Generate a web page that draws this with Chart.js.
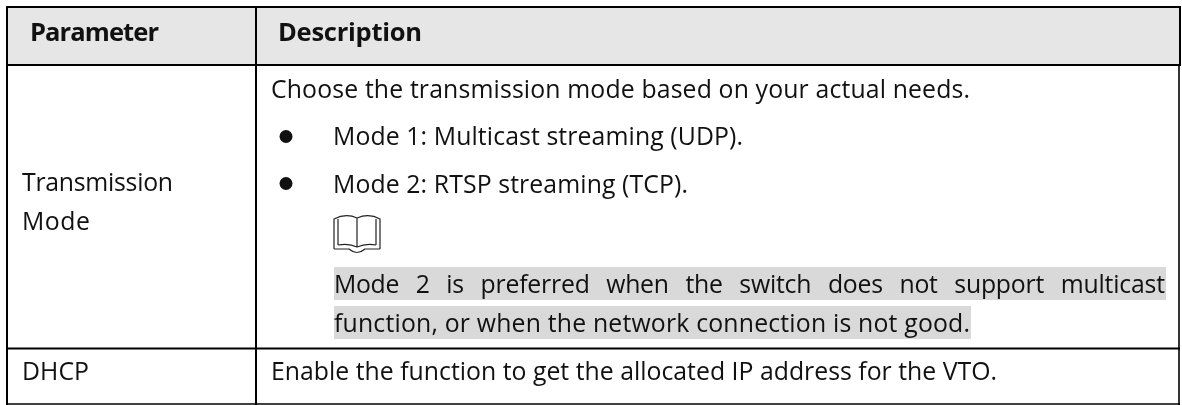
<!DOCTYPE html>
<html>
<head>
<meta charset="utf-8">
<title>Transmission mode parameters</title>
<script src="https://cdn.jsdelivr.net/npm/chart.js@4"></script>
<style>
  html, body { margin: 0; padding: 0; background: #ffffff; }
  #wrap { width: 1182px; height: 405px; }
</style>
</head>
<body>
<div id="wrap"><canvas id="tableChart" width="1182" height="405"></canvas></div>
<script>
// Table content
const headers = ['Parameter', 'Description'];
const parameterNames = ['Transmission', 'Mode', 'DHCP'];
const introLine = 'Choose the transmission mode based on your actual needs.';
const modeItems = ['Mode 1: Multicast streaming (UDP).', 'Mode 2: RTSP streaming (TCP).'];
const noteLines = [
  'Mode 2 is preferred when the switch does not support multicast',
  'function, or when the network connection is not good.'
];
const dhcpLine = 'Enable the function to get the allocated IP address for the VTO.';

const BODY_FONT = '24.8px "Open Sans"';
const HEAD_FONT = 'bold 25.5px "Open Sans"';

// Table rules, in the scale units of the chart (one unit = one pixel)
const tableRules = [
  { x1: 6, y1: 7, x2: 1181, y2: 7, w: 2 },
  { x1: 6, y1: 65, x2: 1181, y2: 65, w: 2 },
  { x1: 6, y1: 348.5, x2: 1180, y2: 348.5, w: 2 },
  { x1: 6, y1: 404, x2: 1180, y2: 404, w: 1.6 },
  { x1: 7, y1: 6, x2: 7, y2: 405, w: 2 },
  { x1: 256, y1: 6, x2: 256, y2: 405, w: 2 },
  { x1: 1180, y1: 6, x2: 1180, y2: 66, w: 2 },
  { x1: 1179, y1: 66, x2: 1179, y2: 405, w: 1.6 }
];

const tablePlugin = {
  id: 'tablePlugin',
  beforeDatasetsDraw(chart) {
    const { ctx, scales: { x, y } } = chart;
    const px = v => x.getPixelForValue(v);
    const py = v => y.getPixelForValue(v);

    const fill = (x1, y1, x2, y2, color) => {
      ctx.fillStyle = color;
      ctx.fillRect(px(x1), py(y1), px(x2) - px(x1), py(y2) - py(y1));
    };
    // Draws a line of text, spaced so that it ends at endX
    const text = (str, tx, ty, endX, font) => {
      ctx.font = font || BODY_FONT;
      ctx.letterSpacing = '0px';
      const spacing = (endX - tx - ctx.measureText(str).width) / (str.length - 1);
      ctx.letterSpacing = spacing.toFixed(3) + 'px';
      ctx.fillStyle = '#111111';
      ctx.fillText(str, px(tx), py(ty));
      ctx.letterSpacing = '0px';
    };

    ctx.save();
    ctx.textBaseline = 'alphabetic';
    ctx.textAlign = 'left';

    // Header and note backgrounds
    fill(7, 7, 1180, 65, '#e6e6e6');
    fill(334, 267, 1166, 300, '#d9d9d9');
    fill(334, 306, 971, 339, '#d9d9d9');

    // Header row
    text(headers[0], 30, 41, 159, HEAD_FONT);
    text(headers[1], 278, 41, 422, HEAD_FONT);

    // Left column
    text(parameterNames[0], 22, 191, 173);
    text(parameterNames[1], 22, 230, 90);
    text(parameterNames[2], 22, 380, 89);

    // Right column
    text(introLine, 271, 98, 970);
    text(modeItems[0], 333, 145, 743);
    text(modeItems[1], 333, 193, 688);
    text(dhcpLine, 271, 380, 997);

    // Bullets
    ctx.fillStyle = '#111111';
    [136.5, 183.5].forEach(by => {
      ctx.beginPath();
      ctx.arc(px(286), py(by), 6.5, 0, Math.PI * 2);
      ctx.fill();
    });

    // Justified first note line: stretch the word gaps to the full band
    ctx.font = BODY_FONT;
    const words = noteLines[0].split(' ');
    const wordsWidth = words.reduce((sum, w) => sum + ctx.measureText(w).width * 0.985, 0);
    const gap = (1165 - 334 - wordsWidth) / (words.length - 1);
    let cursor = 334;
    words.forEach(w => {
      const wordWidth = ctx.measureText(w).width * 0.985;
      text(w, cursor, 293, cursor + wordWidth);
      ctx.font = BODY_FONT;
      cursor += wordWidth + gap;
    });
    text(noteLines[1], 334, 332, 970);

    // Note icon (open book)
    ctx.strokeStyle = '#222222';
    ctx.lineWidth = 1.2;
    ctx.beginPath();
    ctx.moveTo(px(334), py(249)); ctx.lineTo(px(334), py(219));
    ctx.quadraticCurveTo(px(346), py(213), px(357), py(218));
    ctx.quadraticCurveTo(px(369), py(213), px(380), py(219));
    ctx.lineTo(px(380), py(249));
    ctx.moveTo(px(357), py(218)); ctx.lineTo(px(357), py(247));
    ctx.moveTo(px(338), py(219)); ctx.lineTo(px(338), py(245));
    ctx.moveTo(px(376), py(219)); ctx.lineTo(px(376), py(245));
    ctx.moveTo(px(334), py(249)); ctx.lineTo(px(349), py(249));
    ctx.quadraticCurveTo(px(357), py(256), px(365), py(249));
    ctx.lineTo(px(380), py(249));
    ctx.moveTo(px(338), py(245)); ctx.quadraticCurveTo(px(349), py(243), px(357), py(247));
    ctx.quadraticCurveTo(px(366), py(243), px(376), py(245));
    ctx.stroke();

    // Table rules
    ctx.strokeStyle = '#000000';
    tableRules.forEach(r => {
      ctx.lineWidth = r.w;
      ctx.beginPath();
      ctx.moveTo(px(r.x1), py(r.y1));
      ctx.lineTo(px(r.x2), py(r.y2));
      ctx.stroke();
    });
    ctx.restore();
  }
};

new Chart(document.getElementById('tableChart'), {
  type: 'scatter',
  data: { datasets: [] },
  plugins: [tablePlugin],
  options: {
    responsive: false,
    animation: false,
    layout: { padding: 0 },
    plugins: { legend: { display: false }, tooltip: { enabled: false } },
    scales: {
      x: { type: 'linear', min: 0, max: 1182, display: false },
      y: { type: 'linear', min: 0, max: 405, reverse: true, display: false }
    }
  }
});
</script>
</body>
</html>
